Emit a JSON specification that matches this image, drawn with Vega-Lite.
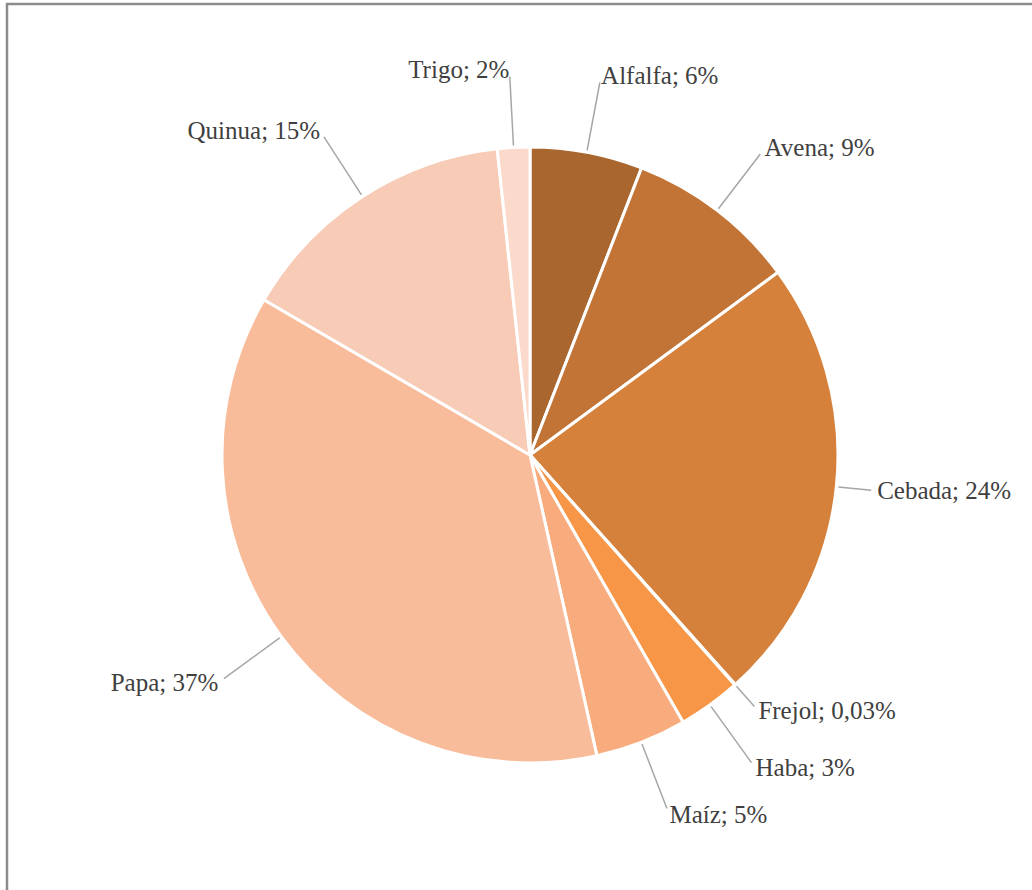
{
  "$schema": "https://vega.github.io/schema/vega-lite/v6.json",
  "width": 1046,
  "height": 902,
  "autosize": {"type": "none"},
  "padding": {"left": 7, "top": 4, "right": -21, "bottom": -16},
  "background": "white",
  "view": {"stroke": "#8C8C8C", "strokeWidth": 2.5, "fill": "white"},
  "config": {"view": {"stroke": "#8C8C8C", "strokeWidth": 2.5}},
  "data": {
    "values": [
      {"i": 1, "cultivo": "Alfalfa", "valor": 5.9, "etiqueta": "Alfalfa; 6%"},
      {"i": 2, "cultivo": "Avena", "valor": 9.0, "etiqueta": "Avena; 9%"},
      {"i": 3, "cultivo": "Cebada", "valor": 23.5, "etiqueta": "Cebada; 24%"},
      {"i": 4, "cultivo": "Frejol", "valor": 0.03, "etiqueta": "Frejol; 0,03%"},
      {"i": 5, "cultivo": "Haba", "valor": 3.3, "etiqueta": "Haba; 3%"},
      {"i": 6, "cultivo": "Maíz", "valor": 4.8, "etiqueta": "Maíz; 5%"},
      {"i": 7, "cultivo": "Papa", "valor": 36.9, "etiqueta": "Papa; 37%"},
      {"i": 8, "cultivo": "Quinua", "valor": 14.9, "etiqueta": "Quinua; 15%"},
      {"i": 9, "cultivo": "Trigo", "valor": 1.7, "etiqueta": "Trigo; 2%"}
    ]
  },
  "transform": [
    {"window": [{"op": "sum", "field": "valor", "as": "fin"}], "sort": [{"field": "i"}], "frame": [null, 0]},
    {"calculate": "datum.fin - datum.valor", "as": "inicio"},
    {"calculate": "(datum.inicio + datum.fin) / 2", "as": "medio"}
  ],
  "layer": [
    {
      "mark": {"type": "arc", "radius": 308, "stroke": "white", "strokeWidth": 3},
      "encoding": {
        "theta": {"field": "inicio", "type": "quantitative", "stack": null, "scale": {"domain": [0, 100.03], "nice": false}},
        "theta2": {"field": "fin"},
        "color": {
          "field": "cultivo",
          "type": "nominal",
          "legend": null,
          "scale": {
            "domain": ["Alfalfa", "Avena", "Cebada", "Frejol", "Haba", "Maíz", "Papa", "Quinua", "Trigo"],
            "range": ["#A9662E", "#C27436", "#D5813C", "#E68A40", "#F79646", "#F8AB7C", "#F9BC9A", "#F8CBB6", "#FBD9CB"]
          }
        }
      }
    },
    {
      "transform": [{"filter": "datum.medio < 20 || datum.medio >= 39"}],
      "mark": {"type": "arc", "radius": 379, "radius2": 310, "stroke": "#A6A6A6", "strokeWidth": 1.5, "fill": "transparent"},
      "encoding": {
        "theta": {"field": "medio", "type": "quantitative", "stack": null, "scale": {"domain": [0, 100.03], "nice": false}},
        "theta2": {"field": "medio"}
      }
    },
    {
      "transform": [{"filter": "datum.medio >= 20 && datum.medio <= 32"}],
      "mark": {"type": "arc", "radius": 343, "radius2": 310, "stroke": "#A6A6A6", "strokeWidth": 1.5, "fill": "transparent"},
      "encoding": {
        "theta": {"field": "medio", "type": "quantitative", "stack": null, "scale": {"domain": [0, 100.03], "nice": false}},
        "theta2": {"field": "medio"}
      }
    },
    {
      "transform": [{"filter": "datum.medio > 32 && datum.medio < 39"}],
      "mark": {"type": "arc", "radius": 337, "radius2": 310, "stroke": "#A6A6A6", "strokeWidth": 1.5, "fill": "transparent"},
      "encoding": {
        "theta": {"field": "medio", "type": "quantitative", "stack": null, "scale": {"domain": [0, 100.03], "nice": false}},
        "theta2": {"field": "medio"}
      }
    },
    {
      "transform": [{"filter": "datum.medio < 20 || (datum.medio >= 39 && datum.medio < 50)"}],
      "mark": {"type": "text", "radius": 386, "align": "left", "baseline": "middle", "font": "Liberation Serif", "fontSize": 25, "color": "#404040"},
      "encoding": {
        "theta": {"field": "medio", "type": "quantitative", "stack": null, "scale": {"domain": [0, 100.03], "nice": false}},
        "text": {"field": "etiqueta"}
      }
    },
    {
      "transform": [{"filter": "datum.medio >= 20 && datum.medio <= 32"}],
      "mark": {"type": "text", "radius": 349, "align": "left", "baseline": "middle", "font": "Liberation Serif", "fontSize": 25, "color": "#404040"},
      "encoding": {
        "theta": {"field": "medio", "type": "quantitative", "stack": null, "scale": {"domain": [0, 100.03], "nice": false}},
        "text": {"field": "etiqueta"}
      }
    },
    {
      "transform": [{"filter": "datum.medio > 32 && datum.medio < 39"}],
      "mark": {"type": "text", "radius": 343, "align": "left", "baseline": "middle", "font": "Liberation Serif", "fontSize": 25, "color": "#404040"},
      "encoding": {
        "theta": {"field": "medio", "type": "quantitative", "stack": null, "scale": {"domain": [0, 100.03], "nice": false}},
        "text": {"field": "etiqueta"}
      }
    },
    {
      "transform": [{"filter": "datum.medio >= 50"}],
      "mark": {"type": "text", "radius": 386, "align": "right", "baseline": "middle", "font": "Liberation Serif", "fontSize": 25, "color": "#404040"},
      "encoding": {
        "theta": {"field": "medio", "type": "quantitative", "stack": null, "scale": {"domain": [0, 100.03], "nice": false}},
        "text": {"field": "etiqueta"}
      }
    }
  ]
}
